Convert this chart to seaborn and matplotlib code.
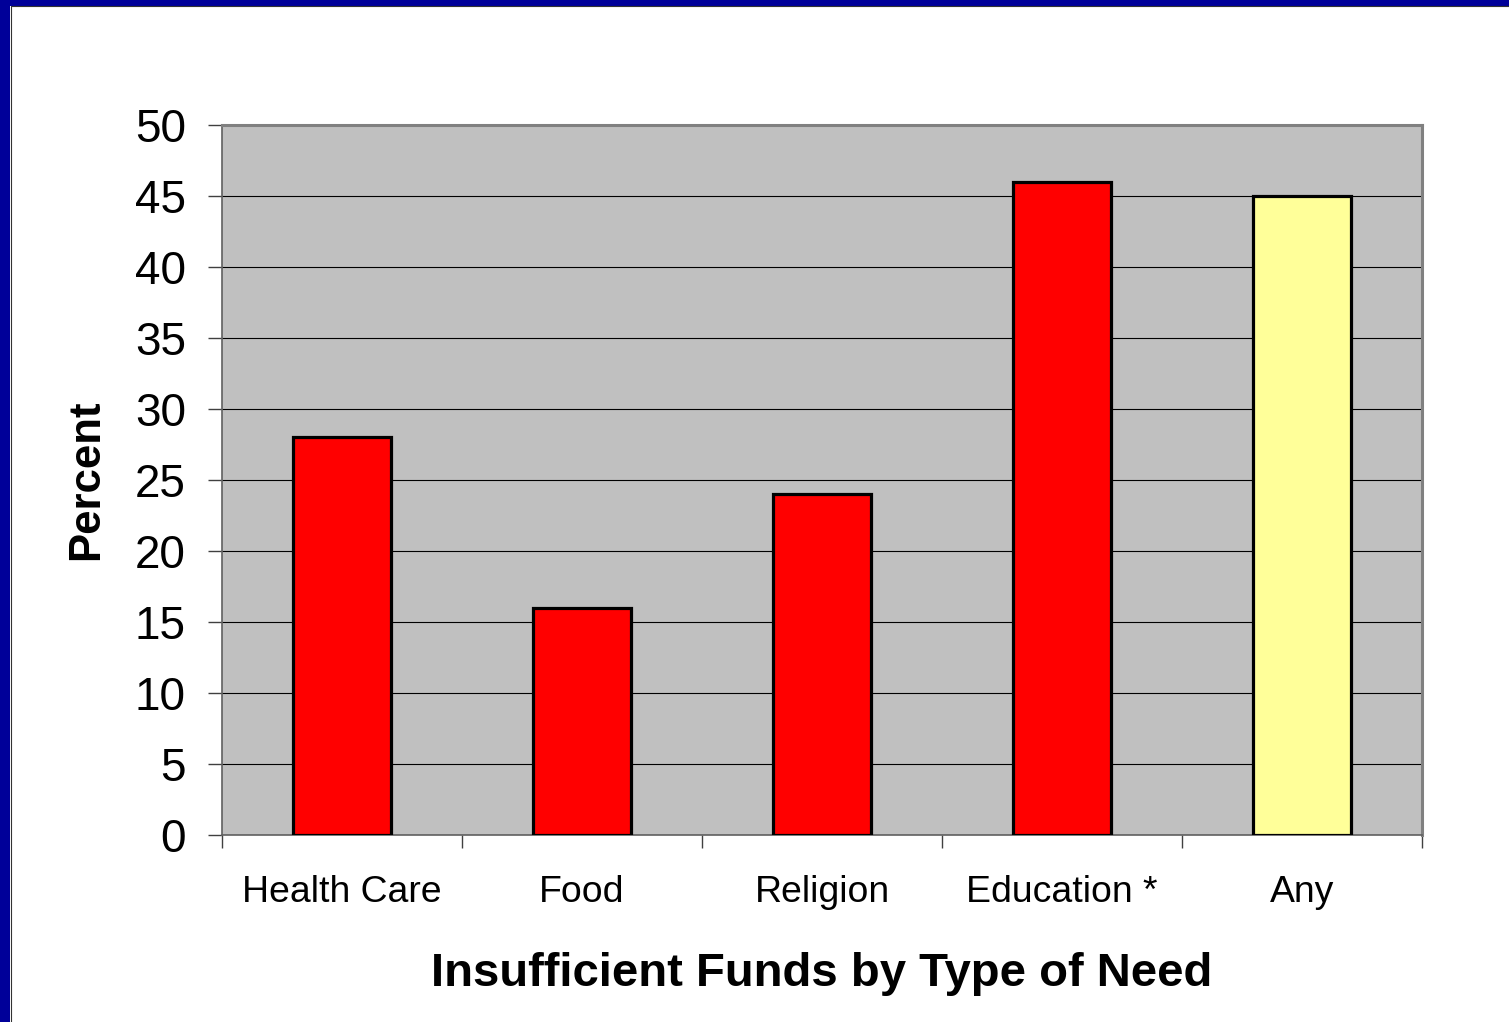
import matplotlib
matplotlib.use("Agg")
import matplotlib.pyplot as plt
from matplotlib.patches import Rectangle
from matplotlib.ticker import FixedLocator, NullFormatter
import seaborn as sns
import pandas as pd

categories = ["Health Care", "Food", "Religion", "Education *", "Any"]
percent = [28, 16, 24, 46, 45]
bar_colors = ["#FF0000", "#FF0000", "#FF0000", "#FF0000", "#FFFF99"]

sns.set_theme(style="white")
plt.rcParams["font.family"] = ["Liberation Sans", "DejaVu Sans"]

df = pd.DataFrame({"need": categories, "pct": percent})

fig = plt.figure(figsize=(15.09, 10.22), dpi=100)
fig.patch.set_facecolor("white")
ax = fig.add_axes([222 / 1509, 187 / 1022, 1200 / 1509, 710 / 1022])
ax.set_facecolor("#C0C0C0")

sns.barplot(data=df, x="need", y="pct", hue="need",
            palette=dict(zip(categories, bar_colors)), legend=False,
            saturation=1, width=0.41, edgecolor="black", linewidth=2.3,
            ax=ax, zorder=3)

ax.set_xlim(-0.5, len(categories) - 0.5)
ax.set_ylim(0, 50)
ax.set_yticks(range(0, 51, 5))
ax.yaxis.grid(True, color="black", linewidth=0.8, zorder=1)
ax.set_axisbelow(True)

# category boundaries carry the tick marks, labels sit at category centres
ax.xaxis.set_major_locator(FixedLocator([i - 0.5 for i in range(len(categories) + 1)]))
ax.xaxis.set_major_formatter(NullFormatter())
ax.xaxis.set_minor_locator(FixedLocator(list(range(len(categories)))))
ax.set_xticklabels(categories, minor=True)
ax.tick_params(axis="x", which="major", direction="out", length=9.5, width=1,
               color="#404040", bottom=True)
ax.tick_params(axis="x", which="minor", length=0, labelsize=26.9, pad=29,
               labelcolor="black")
ax.tick_params(axis="y", direction="out", length=10, width=1, color="#404040",
               left=True, labelsize=33, pad=16, labelcolor="black")

for side in ("top", "right"):
    ax.spines[side].set_color("#808080")
    ax.spines[side].set_linewidth(2.2)
for side in ("left", "bottom"):
    ax.spines[side].set_color("#606060")
    ax.spines[side].set_linewidth(1.2)

ax.set_xlabel("Insufficient Funds by Type of Need", fontsize=34,
              fontweight="bold", labelpad=30, color="black")
ax.set_ylabel("Percent", fontsize=31.5, fontweight="bold", labelpad=20,
              color="black")

# slide frame along the top and left edges
fig.add_artist(Rectangle((0, 1016 / 1022), 1, 6 / 1022, transform=fig.transFigure,
                         facecolor="#000099", edgecolor="none"))
fig.add_artist(Rectangle((0, 0), 10 / 1509, 1, transform=fig.transFigure,
                         facecolor="#000099", edgecolor="none"))
fig.add_artist(plt.Line2D([10.5 / 1509, 10.5 / 1509], [0, 1015.5 / 1022],
                          transform=fig.transFigure, color="#333333", linewidth=0.8))
fig.add_artist(plt.Line2D([10.5 / 1509, 1], [1015.5 / 1022, 1015.5 / 1022],
                          transform=fig.transFigure, color="#333333", linewidth=0.8))

fig.savefig("out.png", dpi=100)
